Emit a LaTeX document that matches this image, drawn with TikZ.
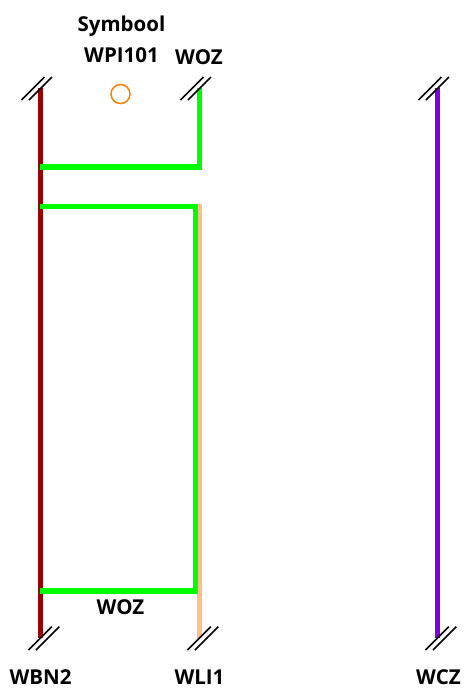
\documentclass[tikz,border=0pt]{standalone}
\usepackage{xcolor}
\usepackage{fontspec}
\usepackage{tikz}
\setmainfont{Open Sans}
\usetikzlibrary{positioning, calc}
\definecolor{railred}{HTML}{990000}
\definecolor{railtan}{HTML}{FFC088}
\definecolor{railviolet}{HTML}{7F00E0}
\definecolor{wiregreen}{HTML}{00FF00}
\definecolor{symbolorange}{HTML}{FF8000}
\tikzstyle{tag} = [inner sep=0pt, text=black, font=\fontsize{20.5}{22}\selectfont\bfseries]
\tikzstyle{symbol} = [circle, draw=symbolorange, line width=1.5pt, minimum size=19pt, inner sep=0pt]
\tikzstyle{rail} = [line width=4.8pt]
\tikzstyle{wire} = [line width=5.2pt, color=wiregreen, miter limit=10]
\tikzstyle{tick} = [line width=1.5pt, color=black]

\begin{document}
\begin{tikzpicture}[x=1pt, y=-1pt]
    \useasboundingbox (0,0) rectangle (464,689);
    \coordinate (wbnTop) at (40.5,88);
    \coordinate (wbnEnd) at (40.5,638);
    \coordinate (wozTop) at (199.5,88);
    \coordinate (wozJoin) at (40,167);
    \coordinate (wliTop) at (199.5,204);
    \coordinate (wliEnd) at (199.5,638);
    \coordinate (wczTop) at (437.5,88);
    \coordinate (wczEnd) at (437.5,638);
    \coordinate (loopA) at (40,206.5);
    \coordinate (loopB) at (195.5,206.5);
    \coordinate (loopC) at (195.5,591);
    \coordinate (loopD) at (40,591);

    \node[symbol] (wpi) at (120.5,94) {};
    \node[tag] (wpilabel) at (121.5,55) {WPI101};
    \node[tag, above=11pt of wpilabel] (symbool) {Symbool};
    \node[tag] (woztop) at (199,57.5) {WOZ};
    \node[tag] (wozbot) at (120.5,607.5) {WOZ};
    \node[tag] (wbn) at (40.5,677.5) {WBN2};
    \node[tag] (wli) at (199.5,677.5) {WLI1};
    \node[tag] (wcz) at (438.5,677.5) {WCZ};

    \draw[rail, color=railred] (wbnTop) -- (wbnEnd);
    \draw[rail, color=railtan] (wliTop) -- (wliEnd);
    \draw[rail, color=railviolet] (wczTop) -- (wczEnd);

    \draw[wire] (wozTop) |- (wozJoin);
    \draw[wire] (loopA) -- (loopB) -- (loopC) -- (loopD);

    \foreach \railend in {wbnTop, wozTop, wczTop} {
        \draw[tick] ($(\railend)+(-19,12)$) -- ($(\railend)+(4,-11)$);
        \draw[tick] ($(\railend)+(-11.5,12)$) -- ($(\railend)+(11.5,-11)$);
    }
    \foreach \railend in {wbnEnd, wliEnd, wczEnd} {
        \draw[tick] ($(\railend)+(-12,12)$) -- ($(\railend)+(11.3,-11.3)$);
        \draw[tick] ($(\railend)+(-4.5,12)$) -- ($(\railend)+(18.8,-11.3)$);
    }
\end{tikzpicture}
\end{document}
